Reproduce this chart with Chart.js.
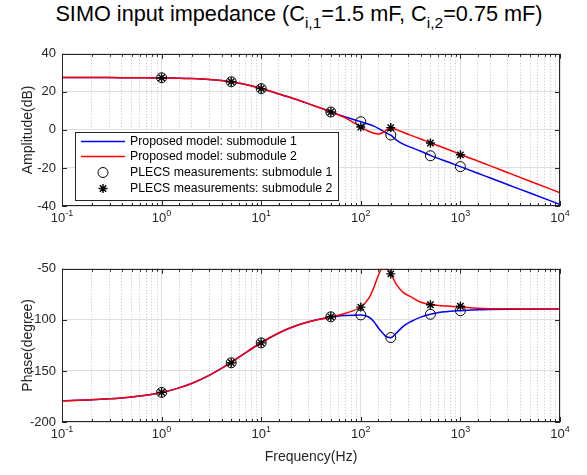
<!DOCTYPE html>
<html>
<head>
<meta charset="utf-8">
<script src="https://cdn.jsdelivr.net/npm/chart.js@4.4.0/dist/chart.umd.min.js"></script>
<style>
  body { margin: 0; background: #fff; width: 587px; height: 475px; position: relative; overflow: hidden;
         font-family: "Liberation Sans", Arial, sans-serif; }
  #title { position: absolute; top: 2px; left: 10px; width: 578px; text-align: center;
           font-size: 21.7px; line-height: 24px; color: #000; white-space: nowrap; }
  #title sub { font-size: 15.5px; vertical-align: -7px; line-height: 0; }
  canvas { position: absolute; left: 0; }
  #amp { top: 40px; }
  #phase { top: 255px; }
</style>
</head>
<body>
<div id="title">SIMO input impedance (C<sub>i,1</sub>=1.5 mF, C<sub>i,2</sub>=0.75 mF)</div>
<canvas id="amp" width="587" height="190"></canvas>
<canvas id="phase" width="587" height="220"></canvas>
<script>
// model curves
const freqModel = [0.1, 0.2, 0.3, 0.5, 0.7, 1, 1.5, 2, 3, 5, 7, 10, 15, 20, 30, 50, 70, 100, 120, 135, 150, 170, 180, 200, 230, 270, 320, 400, 500, 650, 800, 1000, 1500, 2000, 3000, 5000, 10000];
const ampModel1 = [27.5, 27.5, 27.5, 27.4, 27.4, 27.3, 27.2, 27.0, 26.5, 25.3, 23.9, 21.8, 18.9, 16.9, 13.7, 9.5, 6.8, 4.3, 3.0, 2.0, 0.8, -0.8, -1.6, -2.8, -5.5, -7.6, -9.2, -11.2, -13.4, -15.7, -17.4, -19.3, -22.8, -25.3, -28.8, -33.2, -39.2];
const ampModel2 = [27.5, 27.5, 27.5, 27.4, 27.4, 27.3, 27.2, 27.0, 26.5, 25.3, 23.9, 21.8, 18.9, 16.9, 13.7, 9.5, 6.3, 1.6, -0.7, -1.8, -2.2, -1.1, -0.1, 1.2, 0.0, -1.4, -2.9, -4.8, -6.8, -9.0, -10.8, -12.9, -16.4, -18.9, -22.5, -27.0, -33.0];
const phaseModel1 = [-179.2, -178.3, -177.3, -175.5, -173.8, -171.2, -166.6, -162.3, -154.4, -141.7, -132, -122.4, -112.9, -107.5, -101.9, -97.2, -95.8, -95.2, -97.2, -101.5, -108, -114, -116.5, -117.4, -112.5, -105.8, -101.6, -97.3, -94.6, -92.4, -91.5, -91, -90.2, -89.9, -89.6, -89.4, -89.3];
const phaseModel2 = [-179.2, -178.3, -177.3, -175.5, -173.8, -171.2, -166.6, -162.3, -154.4, -141.7, -132, -122.4, -112.9, -107.5, -101.9, -97.2, -93.5, -87.4, -79, -68.5, -56.5, -47.5, -49.5, -55, -66, -73.5, -77.5, -82.8, -85, -86.2, -86.7, -87.5, -88.6, -89, -89.2, -89.3, -89.3];

// PLECS measurements
const freqMeas = [1, 5, 10, 50, 100, 200, 500, 1000];
const ampMeas1 = [27.4, 25.3, 21.7, 9.4, 4.3, -2.7, -13.6, -19.3];
const ampMeas2 = [27.4, 25.3, 21.7, 9.4, 1.5, 1.2, -6.9, -13.1];
const phaseMeas1 = [-171, -142, -122.5, -97, -95.1, -117.3, -94.5, -91];
const phaseMeas2 = [-171, -142, -122.5, -97, -87.5, -55, -85.2, -86.7];

const decadeExps = [-1, 0, 1, 2, 3, 4];
const legendLabels = [
  'Proposed model: submodule 1',
  'Proposed model: submodule 2',
  'PLECS measurements: submodule 1',
  'PLECS measurements: submodule 2'
];

const FONT = '"Liberation Sans", Arial, sans-serif';
const AXIS_COLOR = '#262626';

function pts(xs, ys) {
  return xs.map((x, i) => ({ x: x, y: ys[i] }));
}

function isDecade(v) {
  const l = Math.log10(v);
  return Math.abs(l - Math.round(l)) < 1e-6;
}

function makeDatasets(m1, m2, p1, p2) {
  return [
    { data: pts(freqModel, m1), borderColor: '#0000ff', borderWidth: 1.5, pointRadius: 0,
      cubicInterpolationMode: 'monotone', order: 3 },
    { data: pts(freqModel, m2), borderColor: '#ff0000', borderWidth: 1.5, pointRadius: 0,
      cubicInterpolationMode: 'monotone', order: 2 },
    { data: pts(freqMeas, p1), showLine: false, pointStyle: 'circle', pointRadius: 5,
      borderColor: '#000', backgroundColor: 'rgba(0,0,0,0)', borderWidth: 1, order: 1 },
    { data: pts(freqMeas, p2), showLine: false, pointStyle: 'star', pointRadius: 4.5,
      borderColor: '#000', backgroundColor: 'rgba(0,0,0,0)', borderWidth: 1.4, order: 0 }
  ];
}

// box, inward ticks and 10^n labels
const framePlugin = {
  id: 'frame',
  afterDatasetsDraw(chart) {
    const { ctx, chartArea: a, scales } = chart;
    ctx.save();
    ctx.strokeStyle = AXIS_COLOR;
    ctx.lineWidth = 1;
    ctx.beginPath();
    scales.x.ticks.forEach(t => {
      const px = Math.round(scales.x.getPixelForValue(t.value)) + 0.5;
      const len = isDecade(t.value) ? 5 : 3;
      ctx.moveTo(px, a.bottom); ctx.lineTo(px, a.bottom - len);
      ctx.moveTo(px, a.top); ctx.lineTo(px, a.top + len);
    });
    scales.y.ticks.forEach(t => {
      const py = Math.round(scales.y.getPixelForValue(t.value)) + 0.5;
      ctx.moveTo(a.left, py); ctx.lineTo(a.left + 5, py);
      ctx.moveTo(a.right, py); ctx.lineTo(a.right - 5, py);
    });
    ctx.stroke();
    ctx.strokeRect(Math.round(a.left) + 0.5, Math.round(a.top) + 0.5,
      Math.round(a.right - a.left) - 1, Math.round(a.bottom - a.top) - 1);
    ctx.restore();
  },
  afterDraw(chart) {
    const { ctx, chartArea: a, scales } = chart;
    ctx.save();
    ctx.fillStyle = AXIS_COLOR;
    ctx.textAlign = 'left';
    ctx.textBaseline = 'alphabetic';
    decadeExps.forEach(e => {
      const px = scales.x.getPixelForValue(Math.pow(10, e));
      ctx.font = '13px ' + FONT;
      const wb = ctx.measureText('10').width;
      ctx.font = '9px ' + FONT;
      const we = ctx.measureText(String(e)).width;
      const x0 = px - (wb + we) / 2;
      const yb = a.bottom + 16;
      ctx.font = '13px ' + FONT;
      ctx.fillText('10', x0, yb);
      ctx.font = '9px ' + FONT;
      ctx.fillText(String(e), x0 + wb, yb - 6);
    });
    ctx.restore();
  }
};

const legendPlugin = {
  id: 'boxLegend',
  afterDraw(chart) {
    const { ctx, chartArea: a } = chart;
    const bx = Math.round(a.left) + 13, by = Math.round(a.top) + 78, bw = 263, bh = 68;
    ctx.save();
    ctx.fillStyle = '#fff';
    ctx.fillRect(bx, by, bw, bh);
    ctx.strokeStyle = AXIS_COLOR;
    ctx.lineWidth = 1;
    ctx.strokeRect(bx + 0.5, by + 0.5, bw, bh);
    ctx.font = '12.3px ' + FONT;
    ctx.textBaseline = 'middle';
    legendLabels.forEach((label, i) => {
      const ds = chart.data.datasets[i];
      const cy = Math.round(by + 8.5 + i * 15.7) + 0.5;
      const mx = bx + 28;
      ctx.strokeStyle = ds.borderColor;
      if (ds.pointRadius === 0) {
        ctx.lineWidth = ds.borderWidth;
        ctx.beginPath();
        ctx.moveTo(bx + 6, cy); ctx.lineTo(bx + 50, cy);
        ctx.stroke();
      } else if (ds.pointStyle === 'circle') {
        ctx.lineWidth = ds.borderWidth;
        ctx.beginPath();
        ctx.arc(mx, cy, ds.pointRadius, 0, Math.PI * 2);
        ctx.stroke();
      } else {
        const r = ds.pointRadius, d = r * Math.SQRT1_2;
        ctx.lineWidth = ds.borderWidth;
        ctx.beginPath();
        ctx.moveTo(mx - r, cy); ctx.lineTo(mx + r, cy);
        ctx.moveTo(mx, cy - r); ctx.lineTo(mx, cy + r);
        ctx.moveTo(mx - d, cy - d); ctx.lineTo(mx + d, cy + d);
        ctx.moveTo(mx - d, cy + d); ctx.lineTo(mx + d, cy - d);
        ctx.stroke();
      }
      ctx.fillStyle = '#000';
      ctx.fillText(label, bx + 55, cy);
    });
    ctx.restore();
  }
};

function makeOptions(yMin, yMax, yStep, yTitle, topPad, xHeight, xTitle) {
  return {
    responsive: false,
    animation: false,
    devicePixelRatio: 1,
    layout: { padding: { top: topPad, right: 27, left: 0, bottom: 0 } },
    plugins: { legend: { display: false }, tooltip: { enabled: false } },
    scales: {
      x: {
        type: 'logarithmic', min: 0.1, max: 10000,
        ticks: { display: false, autoSkip: false },
        grid: { color: c => isDecade(c.tick.value) ? '#dedede' : 'rgba(0,0,0,0)', drawTicks: false },
        border: { display: false },
        title: xTitle ? { display: true, text: xTitle, color: AXIS_COLOR,
          font: { family: FONT, size: 14, lineHeight: 2.0 } } : { display: false },
        afterFit: s => { s.height = xHeight; }
      },
      xm: {
        type: 'logarithmic', min: 0.1, max: 10000, position: 'bottom',
        ticks: { display: false, autoSkip: false },
        grid: { color: c => isDecade(c.tick.value) ? 'rgba(0,0,0,0)' : '#c4c4c4', drawTicks: false },
        border: { display: false, dash: [1, 2] },
        afterFit: s => { s.height = 0; }
      },
      y: {
        min: yMin, max: yMax,
        ticks: { stepSize: yStep, padding: 6, color: AXIS_COLOR, font: { family: FONT, size: 13 } },
        grid: { color: '#dedede', drawTicks: false },
        border: { display: false },
        title: { display: true, text: yTitle, color: AXIS_COLOR,
          font: { family: FONT, size: 14, lineHeight: 3.4 } },
        afterFit: s => { s.width = 62; }
      }
    }
  };
}

new Chart(document.getElementById('amp'), {
  type: 'line',
  data: { datasets: makeDatasets(ampModel1, ampModel2, ampMeas1, ampMeas2) },
  options: makeOptions(-40, 40, 20, 'Amplitude(dB)', 11, 24, null),
  plugins: [framePlugin, legendPlugin]
});

new Chart(document.getElementById('phase'), {
  type: 'line',
  data: { datasets: makeDatasets(phaseModel1, phaseModel2, phaseMeas1, phaseMeas2) },
  options: makeOptions(-200, -50, 50, 'Phase(degree)', 12, 53, 'Frequency(Hz)'),
  plugins: [framePlugin]
});
</script>
</body>
</html>
